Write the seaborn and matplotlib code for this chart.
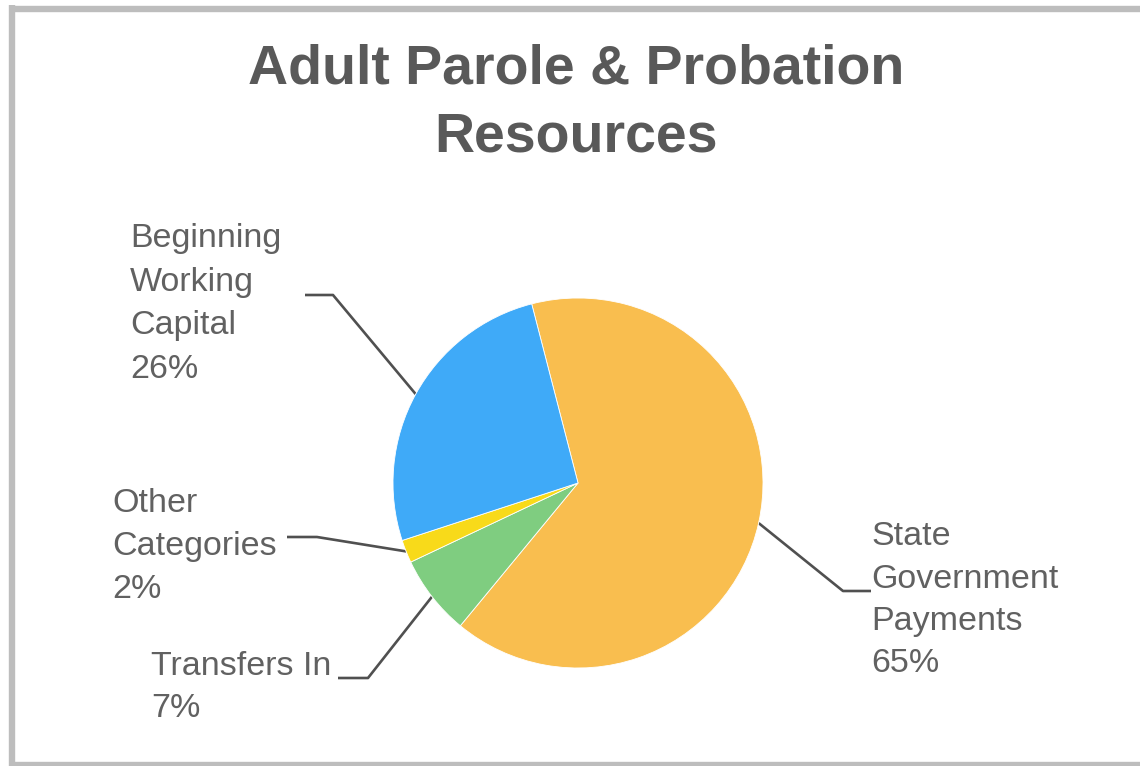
import numpy as np
import matplotlib
matplotlib.use("Agg")
import matplotlib.pyplot as plt
import seaborn as sns

# Resource shares (percent)
categories = ["State Government Payments", "Transfers In", "Other Categories", "Beginning Working Capital"]
shares = [65, 7, 2, 26]
label_lines = [
    ["State", "Government", "Payments"],
    ["Transfers In"],
    ["Other", "Categories"],
    ["Beginning", "Working", "Capital"],
]
slice_colors = ["#F9BE4F", "#7FCD80", "#F8DA1A", "#3FAAF8"]

title_lines = ["Adult Parole & Probation", "Resources"]

sns.set_theme(style="white")
plt.rcParams["font.family"] = ["Liberation Sans", "DejaVu Sans"]

W, H = 1140, 766
fig = plt.figure(figsize=(W / 100, H / 100), dpi=100)
fig.patch.set_facecolor("white")
ax = fig.add_axes([0, 0, 1, 1])


def Y(py):
    return H - py


palette = sns.color_palette(slice_colors)
center = (578, Y(483))
radius = 185
wedges, _ = ax.pie(
    shares,
    colors=palette,
    startangle=104.5,
    counterclock=False,
    center=center,
    radius=radius,
    wedgeprops=dict(edgecolor="white", linewidth=0.6),
)
ax.set_xlim(0, W)
ax.set_ylim(0, H)
ax.set_aspect("equal")
ax.set_axis_off()

# Label layout: left x, baseline of first line, line step, elbow point, line end
layout = [
    dict(x=871, base=545, step=42.5, elbow=(843, 591), end=(871, 591)),
    dict(x=151, base=675, step=42, elbow=(368, 678), end=(338, 678)),
    dict(x=112, base=512, step=43, elbow=(317, 537), end=(287, 537)),
    dict(x=130, base=247, step=43.5, elbow=(333, 295), end=(305, 295)),
]

text_color = "#616161"
line_color = "#505050"
for w, share, lines, lay in zip(wedges, shares, label_lines, layout):
    all_lines = lines + [f"{share}%"]
    for i, txt in enumerate(all_lines):
        ax.text(lay["x"], Y(lay["base"] + i * lay["step"]), txt,
                ha="left", va="baseline", fontsize=24.5, color=text_color)
    mid = np.deg2rad((w.theta1 + w.theta2) / 2)
    ex = center[0] + radius * np.cos(mid)
    ey = center[1] + radius * np.sin(mid)
    ax.plot([ex, lay["elbow"][0], lay["end"][0]],
            [ey, Y(lay["elbow"][1]), Y(lay["end"][1])],
            color=line_color, lw=1.9, solid_capstyle="butt", zorder=0)

# Title
for txt, base in zip(title_lines, [83, 151]):
    ax.text(576, Y(base), txt, ha="center", va="baseline",
            fontsize=40, fontweight="bold", color="#595959")

# Outer frame
frame_kw = dict(color="#BDBDBD", lw=4.6, solid_capstyle="butt", clip_on=False)
ax.plot([12, 12], [Y(5), Y(766)], **frame_kw)
ax.plot([9, W], [Y(8.5), Y(8.5)], **frame_kw)
ax.plot([9, W], [Y(764.5), Y(764.5)], **frame_kw)

fig.savefig("out.png", dpi=100, facecolor="white")
